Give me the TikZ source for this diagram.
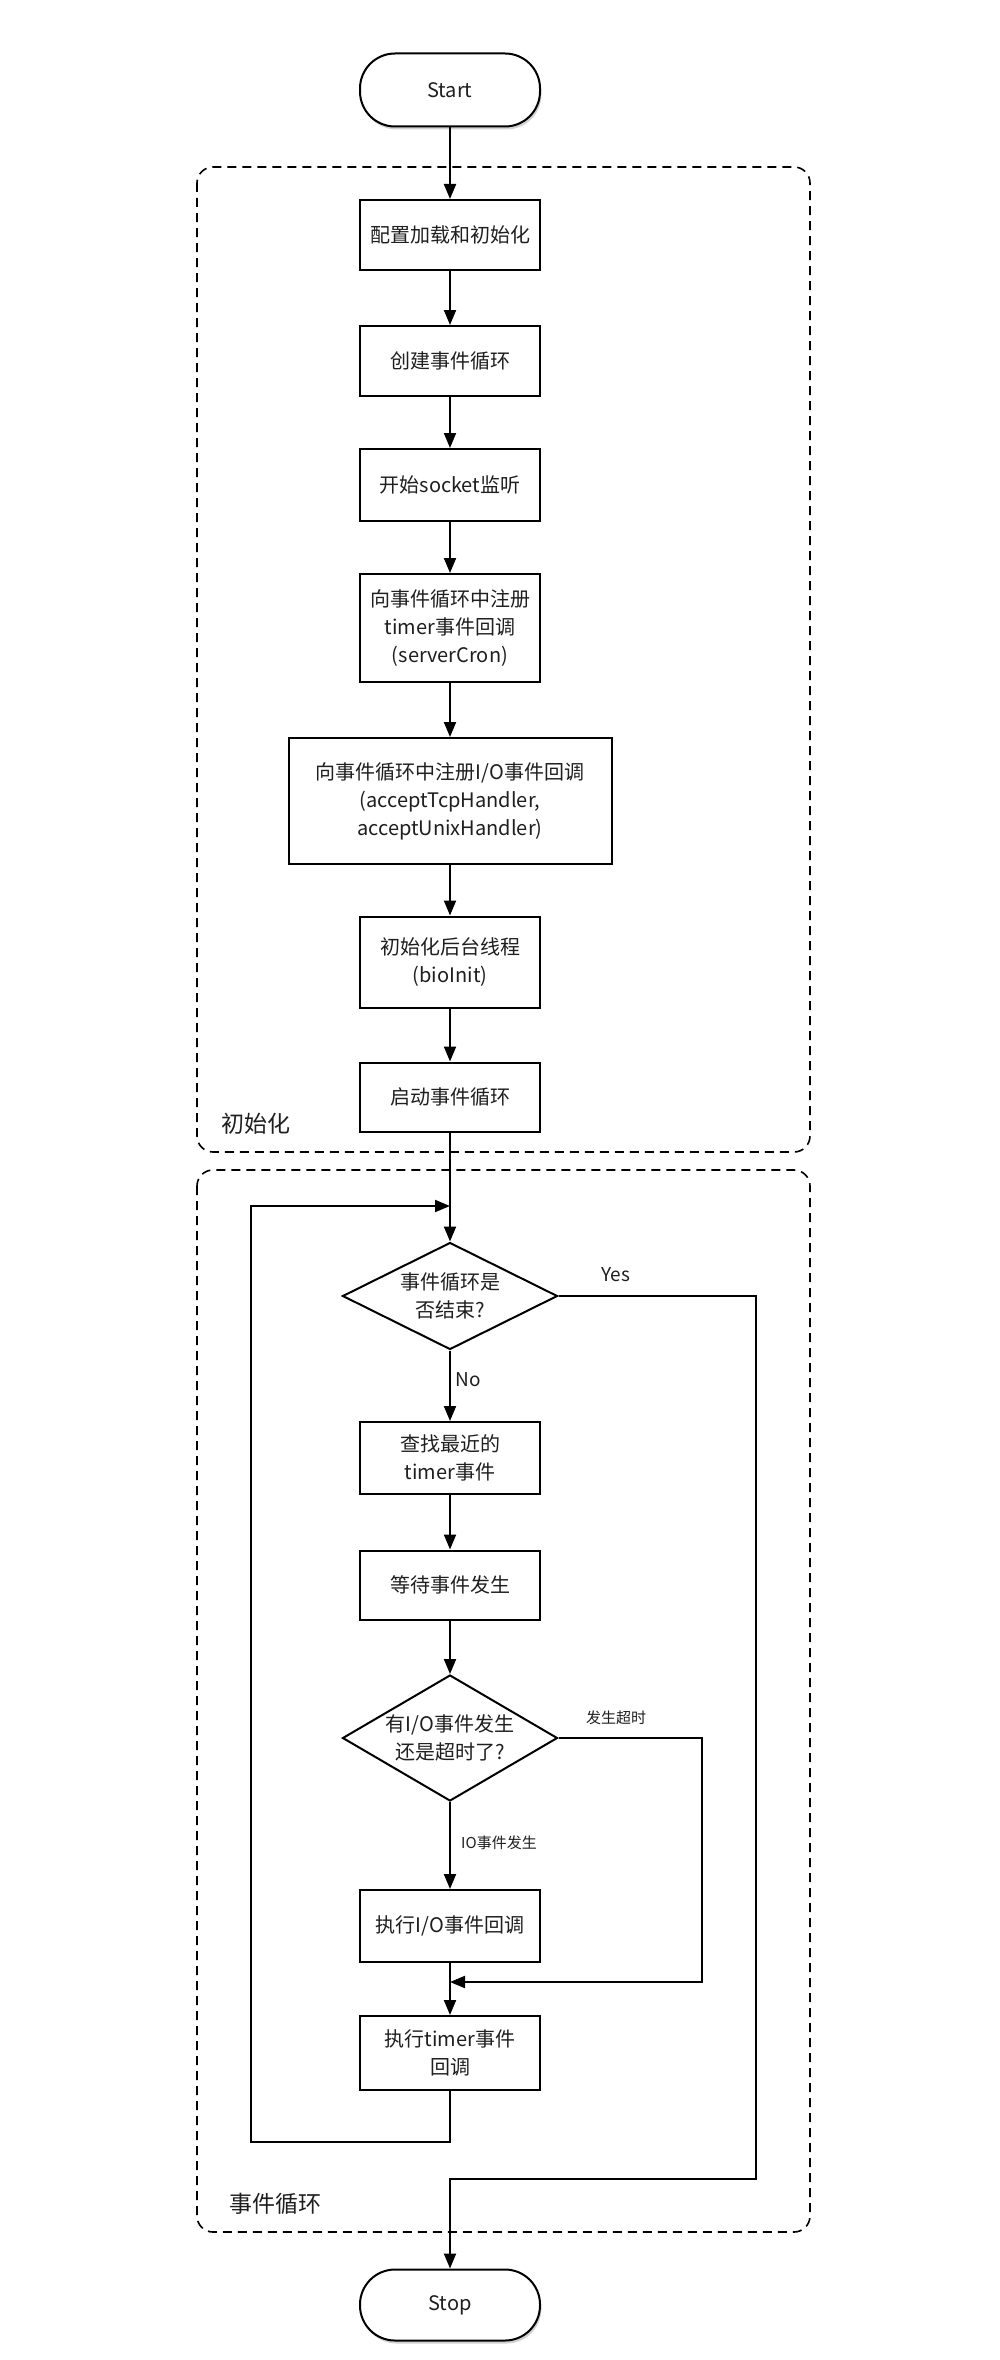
\documentclass[tikz,border=0pt]{standalone}
\usepackage{fontspec}
\setmainfont{Noto Sans CJK SC}
\usetikzlibrary{arrows.meta,shapes.geometric,shadows}
\begin{document}
\begin{tikzpicture}[x=1pt,y=-1pt,
  font=\fontsize{20}{28}\selectfont,
  proc/.style={draw=black, line width=2pt, minimum width=180pt, align=center, inner sep=0pt, text=black!88, fill=white},
  term/.style={proc, rounded corners=35pt, drop shadow={shadow xshift=1.5pt,shadow yshift=-3pt,opacity=0.35}},
  dia/.style={diamond, draw=black, line width=2pt, minimum width=215pt, inner sep=0pt, fill=white},
  arr/.style={line width=2pt, -{Triangle[length=15pt,width=12pt]}},
  grp/.style={draw=black, line width=1.6pt, dash pattern=on 9pt off 6pt, rounded corners=16pt},
  small/.style={font=\fontsize{15}{18}\selectfont, text=black!88},
  lab/.style={font=\fontsize{19}{22}\selectfont, text=black!88},
  big/.style={font=\fontsize{23}{26}\selectfont, text=black!88},
]
\useasboundingbox[fill=white] (0,0) rectangle (1000,2360);

% group frames
\draw[grp] (197,167) rectangle (810,1152);
\draw[grp] (197,1170) rectangle (810,2232);
\node[big] (g1) at (256,1124) {初始化};
\node[big] (g2) at (275,2204) {事件循环};

% nodes
\node[term, minimum height=73pt] (start) at (450,90) {Start};
\node[proc, minimum height=70pt] (b1) at (450,235) {配置加载和初始化};
\node[proc, minimum height=70pt] (b2) at (450,361) {创建事件循环};
\node[proc, minimum height=72pt] (b3) at (450,485) {开始socket监听};
\node[proc, minimum height=108pt] (b4) at (450,628) {向事件循环中注册\\timer事件回调\\(serverCron)};
\node[proc, minimum width=323pt, minimum height=126pt] (b5) at (450,801) {向事件循环中注册I/O事件回调\\(acceptTcpHandler,\\acceptUnixHandler)};
\node[proc, minimum height=91pt] (b6) at (450,962) {初始化后台线程\\(bioInit)};
\node[proc, minimum height=69pt] (b7) at (450,1097) {启动事件循环};
\node[dia, minimum height=107pt, label={[align=center, text=black!88]center:{事件循环是\\否结束?}}] (d1) at (450,1296) {};
\node[proc, minimum height=72pt] (b8) at (450,1458) {查找最近的\\timer事件};
\node[proc, minimum height=69pt] (b9) at (450,1585) {等待事件发生};
\node[dia, minimum height=126pt, label={[align=center, text=black!88]center:{有I/O事件发生\\还是超时了?}}] (d2) at (450,1738) {};
\node[proc, minimum height=72pt] (b10) at (450,1926) {执行I/O事件回调};
\node[proc, minimum height=74pt] (b11) at (450,2053) {执行timer事件\\回调};
\node[term, minimum height=71pt] (stop) at (450,2305) {Stop};

% coordinates for bends
\coordinate (lb) at (450,2142);
\coordinate (ll) at (251,2142);
\coordinate (lt) at (251,1206);
\coordinate (lm) at (450,1206);
\coordinate (yr) at (756,1296);
\coordinate (yb) at (756,2179);
\coordinate (yl) at (450,2179);
\coordinate (tr) at (702,1738);
\coordinate (tb) at (702,1982);
\coordinate (tm) at (450,1982);

% connectors
\draw[arr] (start) -- (b1);
\draw[arr] (b1) -- (b2);
\draw[arr] (b2) -- (b3);
\draw[arr] (b3) -- (b4);
\draw[arr] (b4) -- (b5);
\draw[arr] (b5) -- (b6);
\draw[arr] (b6) -- (b7);
\draw[arr] (b7) -- (d1);
\draw[arr] (d1) -- (b8);
\draw[arr] (b8) -- (b9);
\draw[arr] (b9) -- (d2);
\draw[arr] (d2) -- (b10);
\draw[arr] (b10) -- (b11);
\draw[arr] (b11.south) -- (lb) -- (ll) -- (lt) -- (lm);
\draw[arr] (d1.east) -- (yr) -- (yb) -- (yl) -- (stop.north);
\draw[arr] (d2.east) -- (tr) -- (tb) -- (tm);

% edge labels
\node[lab] (yes) at (616,1275) {Yes};
\node[lab] (no) at (468,1380) {No};
\node[small] (to) at (616,1718) {发生超时};
\node[small] (io) at (499,1843) {IO事件发生};
\end{tikzpicture}
\end{document}
